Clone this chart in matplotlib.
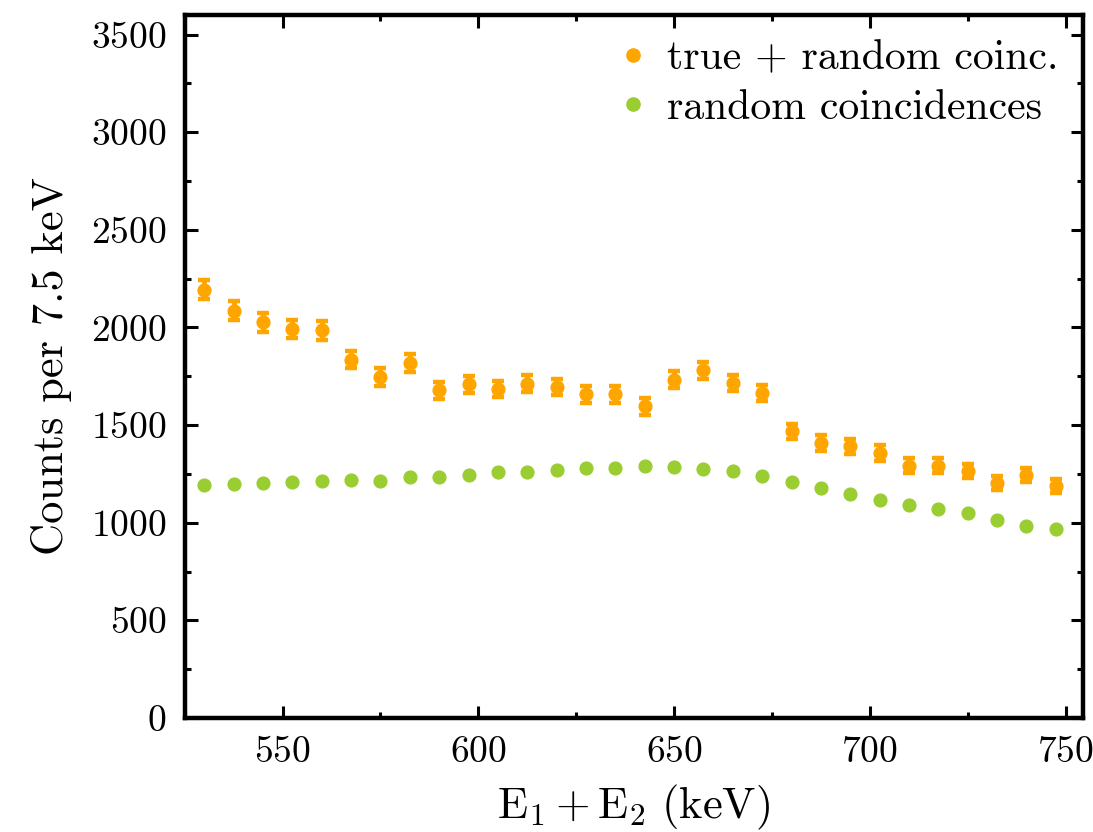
import matplotlib
matplotlib.use("Agg")
import matplotlib.pyplot as plt
from matplotlib.ticker import MultipleLocator
from matplotlib.lines import Line2D

plt.rcParams['font.family'] = ['cmr10', 'DejaVu Serif']
plt.rcParams['mathtext.fontset'] = 'cm'
plt.rcParams['axes.formatter.use_mathtext'] = True

energy = [530.0, 537.5, 545.0, 552.5, 560.0, 567.5, 575.0, 582.5, 590.0, 597.5,
          605.0, 612.5, 620.0, 627.5, 635.0, 642.5, 650.0, 657.5, 665.0, 672.5,
          680.0, 687.5, 695.0, 702.5, 710.0, 717.5, 725.0, 732.5, 740.0, 747.5]

total_counts = [2194, 2086, 2026, 1992, 1985, 1835, 1746, 1818, 1678, 1708,
                1685, 1712, 1695, 1657, 1657, 1596, 1732, 1780, 1715, 1664,
                1468, 1408, 1391, 1357, 1292, 1292, 1266, 1203, 1244, 1189]

total_err = [50, 48, 48, 47, 47, 45, 44, 45, 43, 44,
             43, 44, 43, 43, 43, 42, 44, 44, 43, 43,
             40, 40, 39, 39, 38, 38, 37, 36, 37, 36]

random_counts = [1193, 1199, 1204, 1211, 1216, 1218, 1215, 1234, 1235, 1245,
                 1259, 1259, 1271, 1278, 1280, 1288, 1287, 1273, 1264, 1237,
                 1210, 1177, 1147, 1117, 1092, 1070, 1051, 1015, 984, 967]

labels = ['true + random coinc.', 'random coincidences']
orange = '#FFA500'
green = '#9ACD32'

fig = plt.figure(figsize=(10.93, 8.32), dpi=100)
ax = fig.add_axes([0.169, 0.137, 0.822, 0.845])

ax.errorbar(energy, total_counts, yerr=total_err, fmt='o', color=orange,
            markersize=9.2, elinewidth=3.5, capsize=4.5, capthick=3.2, zorder=3)
ax.plot(energy, random_counts, 'o', color=green, markersize=9.2, zorder=3)

ax.set_xlim(525, 754.5)
ax.set_ylim(0, 3600)
ax.xaxis.set_major_locator(MultipleLocator(50))
ax.xaxis.set_minor_locator(MultipleLocator(25))
ax.yaxis.set_major_locator(MultipleLocator(500))
ax.yaxis.set_minor_locator(MultipleLocator(250))

for s in ax.spines.values():
    s.set_linewidth(3.2)

ax.tick_params(which='both', direction='in', top=True, right=True, width=2.2,
               labelsize=27, pad=13)
ax.tick_params(which='major', length=9)
ax.tick_params(which='minor', length=4.5)

ax.set_xlabel(r'$\mathrm{E}_1 + \mathrm{E}_2\ (\mathrm{keV})$', fontsize=32, labelpad=10)
ax.set_ylabel('Counts per 7.5 keV', fontsize=32, labelpad=14)

handles = [Line2D([], [], marker='o', linestyle='none', color=orange, markersize=9.5),
           Line2D([], [], marker='o', linestyle='none', color=green, markersize=9.5)]
ax.legend(handles, labels, loc='upper right', frameon=False, fontsize=30,
          handletextpad=0.3, borderaxespad=0.25, handlelength=1.0,
          labelspacing=0.28, borderpad=0.35)

fig.savefig('out.png', dpi=100)
